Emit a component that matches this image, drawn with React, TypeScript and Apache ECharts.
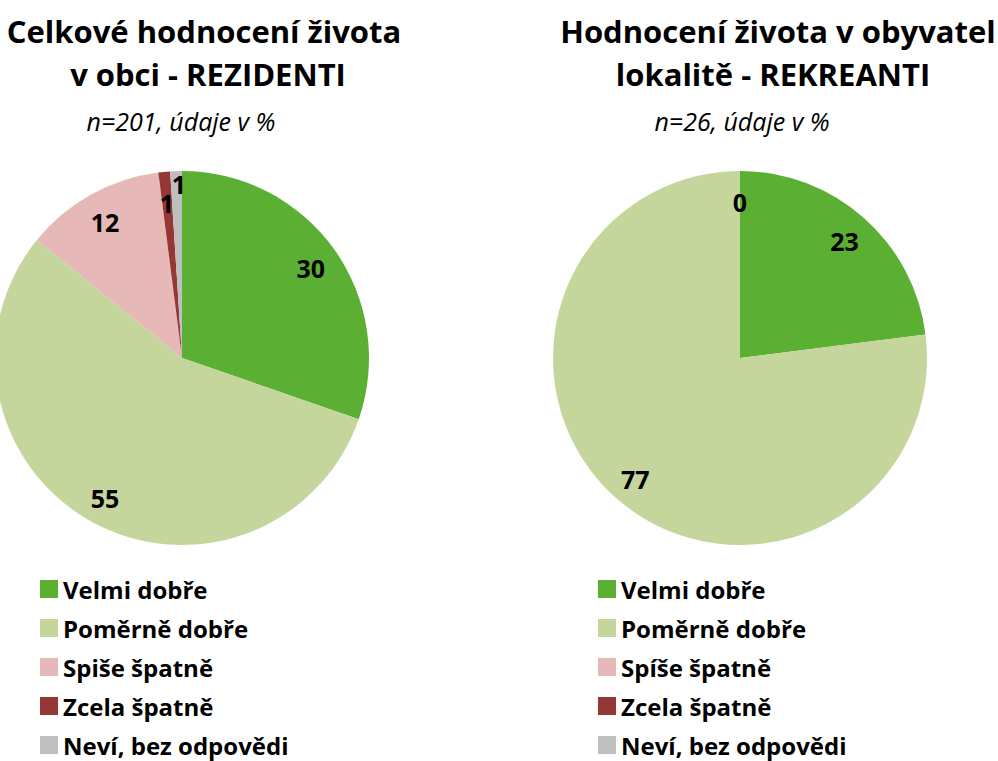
import React, { useEffect, useRef } from "react";
import * as echarts from "echarts";

const categoriesLeft = ["Velmi dobře", "Poměrně dobře", "Spiše špatně", "Zcela špatně", "Neví, bez odpovědi"];
const categoriesRight = ["Velmi dobře", "Poměrně dobře", "Spíše špatně", "Zcela špatně", "Neví, bez odpovědi"];
const valuesLeft = [30, 55, 12, 1, 1];
const valuesRight = [23, 77, 0, 0, 0];
const colors = ["#5BB033", "#C4D69C", "#E6B9B8", "#953735", "#BFBFBF"];

const titleLeft = ["Celkové hodnocení života", "v obci - REZIDENTI"];
const subLeft = "n=201, údaje v %";
const titleRight = ["Hodnocení života v obyvatel", "lokalitě - REKREANTI"];
const subRight = "n=26, údaje v %";

const FONT = "'Open Sans', Lato, sans-serif";

export default function App() {
  const ref = useRef<HTMLDivElement>(null);
  useEffect(() => {
    if (!ref.current) return;
    const chart = echarts.init(ref.current, null, { renderer: "svg" });
    const R = 187;
    const build = (names: string[], values: number[]) =>
      names.map((n, i) => ({ name: n, value: values[i], itemStyle: { color: colors[i] } }));
    const labelData = (names: string[], values: number[]) => {
      const lastZero = values.lastIndexOf(0);
      return names.map((n, i) => ({
        name: n,
        value: values[i],
        label: { show: values[i] !== 0 || i === lastZero },
      }));
    };
    const labelStyle = {
      show: true,
      position: "inside",
      formatter: "{c}",
      color: "#000",
      opacity: 1,
      fontFamily: FONT,
      fontWeight: "bold",
      fontSize: 25,
      lineHeight: 22,
    };
    const baseSeries = (center: number[], data: any[]) => ({
      type: "pie",
      center,
      radius: [0, R],
      startAngle: 90,
      clockwise: true,
      data,
      label: { show: false },
      labelLine: { show: false },
      silent: true,
      avoidLabelOverlap: false,
      itemStyle: { borderWidth: 0 },
      emphasis: { disabled: true },
    });
    const overlaySeries = (center: number[], data: any[], layout?: any) => ({
      type: "pie",
      center,
      radius: [R * 0.66, R],
      startAngle: 90,
      clockwise: true,
      data,
      label: labelStyle,
      labelLine: { show: false },
      silent: true,
      avoidLabelOverlap: false,
      itemStyle: { color: "rgba(0,0,0,0)", borderWidth: 0 },
      emphasis: { disabled: true },
      labelLayout: layout,
    });
    const legend = (names: string[], left: number) => ({
      orient: "vertical",
      left,
      top: 577,
      padding: 0,
      itemWidth: 18,
      itemHeight: 18,
      itemGap: 15,
      icon: "rect",
      selectedMode: false,
      textStyle: {
        fontFamily: FONT,
        fontWeight: "bold",
        fontSize: 24,
        lineHeight: 24,
        color: "#000",
      },
      data: names.map((n, i) => ({ name: n, itemStyle: { color: colors[i] } })),
    });
    const txt = (x: number, y: number, text: string, size: number, italic = false) => ({
      type: "text",
      x,
      y,
      style: {
        text,
        fill: "#000",
        fontFamily: FONT,
        fontSize: size,
        fontWeight: italic ? "normal" : "bold",
        fontStyle: italic ? "italic" : "normal",
        textAlign: "center",
        textVerticalAlign: "middle",
      },
    });
    chart.setOption({
      animation: false,
      backgroundColor: "#fff",
      legend: [legend(categoriesLeft, 40), legend(categoriesRight, 598)],
      graphic: [
        txt(204, 31, titleLeft[0], 31),
        txt(208, 74, titleLeft[1], 31),
        txt(181, 121, subLeft, 25, true),
        txt(778, 31, titleRight[0], 31),
        txt(773, 74, titleRight[1], 31),
        txt(742, 121, subRight, 25, true),
      ],
      series: [
        baseSeries([182, 358], build(categoriesLeft, valuesLeft)),
        baseSeries([740, 358], build(categoriesRight, valuesRight)),
        overlaySeries([182, 358], labelData(categoriesLeft, valuesLeft), (p: any) =>
          p.dataIndex === 4 ? { dx: 2, dy: -16 } : { dy: 2 }
        ),
        overlaySeries([740, 358], labelData(categoriesRight, valuesRight), () => ({ dy: 2 })),
      ],
    });
    return () => chart.dispose();
  }, []);
  return (
    <div
      ref={ref}
      style={{ position: "fixed", left: 0, top: 0, width: 998, height: 761 }}
    />
  );
}
